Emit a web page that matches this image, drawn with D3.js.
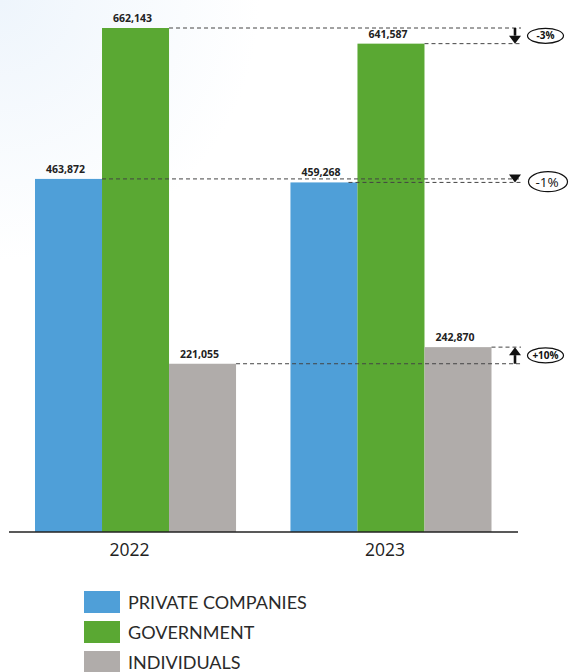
<!DOCTYPE html>
<html>
<head>
<meta charset="utf-8">
<script src="https://cdn.jsdelivr.net/npm/d3@7"></script>
<style>
  html, body { margin: 0; padding: 0; background: #fff; }
  svg { display: block; }
</style>
</head>
<body>
<svg id="chart" width="569" height="672"></svg>
<script>
// Funding by source, 2022 vs 2023
const years = ["2022", "2023"];
const series = ["PRIVATE COMPANIES", "GOVERNMENT", "INDIVIDUALS"];
const colors = ["#4f9fd8", "#5aa833", "#b0acaa"];
const privateCompanies = [463872, 459268];
const government = [662143, 641587];
const individuals = [221055, 242870];
const values = [privateCompanies, government, individuals];

const W = 569, H = 672;
const svg = d3.select("#chart");

// faint blue wash in the upper-left corner
const defs = svg.append("defs");
const rg = defs.append("radialGradient").attr("id", "wash")
  .attr("cx", 0).attr("cy", 0).attr("r", 260).attr("gradientUnits", "userSpaceOnUse");
rg.append("stop").attr("offset", "0%").attr("stop-color", "#eef5fc");
rg.append("stop").attr("offset", "100%").attr("stop-color", "#ffffff");
svg.append("rect").attr("width", W).attr("height", H).attr("fill", "url(#wash)");

const baseY = 532;
const y = d3.scaleLinear().domain([0, d3.max(government)]).range([baseY, 28]);

const x0 = d3.scaleBand().domain(years).range([35, 491.5])
  .paddingInner(0.213).paddingOuter(0);
const x1 = d3.scaleBand().domain(series).range([0, x0.bandwidth()]).padding(0);

// bars
years.forEach((yr, i) => {
  const g = svg.append("g").attr("transform", `translate(${x0(yr)},0)`);
  series.forEach((s, j) => {
    const v = values[j][i];
    g.append("rect")
      .attr("x", x1(s)).attr("width", x1.bandwidth())
      .attr("y", y(v)).attr("height", baseY - y(v))
      .attr("fill", colors[j]);
  });
});

// dashed reference lines from each bar's top to the comparison column
const lineEnd = 521;
const dashed = svg.append("g")
  .attr("stroke", "#444").attr("stroke-width", 1).attr("stroke-dasharray", "4,3");
years.forEach((yr, i) => {
  series.forEach((s, j) => {
    const v = values[j][i];
    const start = x0(yr) + x1(s) + x1.bandwidth() - (i === 1 && j === 0 ? 9 : 0);
    dashed.append("line")
      .attr("x1", start).attr("x2", lineEnd)
      .attr("y1", y(v)).attr("y2", y(v));
  });
});

// value labels
const fmt = d3.format(",");
years.forEach((yr, i) => {
  series.forEach((s, j) => {
    const v = values[j][i];
    svg.append("text")
      .attr("x", x0(yr) + x1(s) + x1.bandwidth() / 2 - 3)
      .attr("y", y(v) - 6)
      .attr("text-anchor", "middle")
      .attr("font-family", "'Open Sans', sans-serif")
      .attr("font-weight", 700).attr("font-size", 10.5)
      .attr("fill", "#222")
      .text(fmt(v));
  });
});

// change markers: arrow from the 2022 level to the 2023 level plus a badge
const ax = 515;
const pct = d3.format("+.0%");
series.forEach((s, j) => {
  const a = values[j][0], b = values[j][1];
  const ya = y(a), yb = y(b);
  const down = b < a;
  const g = svg.append("g");
  const headH = 8, headW = 6;
  const tipY = yb;
  const baseHead = down ? tipY - headH : tipY + headH;
  if (down ? ya < baseHead - 1 : ya > baseHead + 1) {
    g.append("line").attr("x1", ax).attr("x2", ax)
      .attr("y1", ya).attr("y2", baseHead)
      .attr("stroke", "#111").attr("stroke-width", 2.6);
  }
  g.append("path")
    .attr("d", `M${ax - headW},${baseHead} L${ax + headW},${baseHead} L${ax},${tipY} Z`)
    .attr("fill", "#111");
  const cy = (ya + yb) / 2;
  const ratio = (b - a) / a;
  const txt = pct(ratio).replace("−", "-");
  const big = j === 0;
  g.append("ellipse").attr("cx", big ? 548 : 545.5).attr("cy", cy + (big ? 1 : 0))
    .attr("rx", big ? 19.5 : 18).attr("ry", big ? 10 : 7.5)
    .attr("fill", "#fff").attr("stroke", "#111").attr("stroke-width", 1.2);
  g.append("text").attr("x", big ? 547 : 545.5).attr("y", cy + (big ? 6 : 3.5))
    .attr("text-anchor", "middle")
    .attr("font-family", "'Open Sans', sans-serif")
    .attr("font-weight", big ? 400 : 700).attr("font-size", big ? 13.5 : 10)
    .attr("fill", "#111")
    .text(txt);
});

// baseline and year labels
svg.append("line").attr("x1", 9).attr("x2", 518).attr("y1", baseY).attr("y2", baseY)
  .attr("stroke", "#222").attr("stroke-width", 1.5);

const axis = svg.append("g").attr("transform", `translate(-6,${baseY})`)
  .call(d3.axisBottom(x0).tickSize(0).tickPadding(12));
axis.select(".domain").remove();
axis.selectAll("text")
  .attr("font-family", "'Open Sans', sans-serif")
  .attr("font-size", 17.5).attr("fill", "#222");

// legend
const legend = svg.append("g").attr("transform", "translate(84,591)");
series.forEach((s, j) => {
  const row = legend.append("g").attr("transform", `translate(0,${j * 30})`);
  row.append("rect").attr("width", 36).attr("height", 22).attr("fill", colors[j]);
  row.append("text").attr("x", 44).attr("y", 17.5)
    .attr("font-family", "Lato, sans-serif")
    .attr("font-size", 18).attr("fill", "#2a2a2a")
    .text(s);
});
</script>
</body>
</html>
